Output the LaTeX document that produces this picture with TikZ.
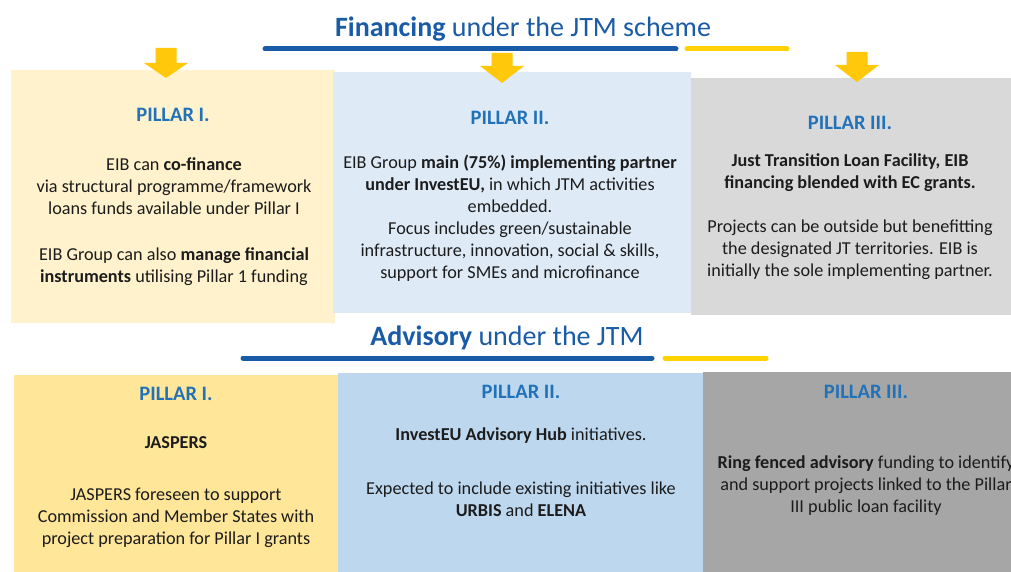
\documentclass[tikz,border=0pt]{standalone}
\usepackage{fontspec}
\setmainfont{Carlito}
\usepackage{tikz}

\definecolor{eibblue}{HTML}{1A5BA8}
\definecolor{pillarblue}{HTML}{2272B9}
\definecolor{eibyellow}{HTML}{FFD200}
\definecolor{arrowyellow}{HTML}{FFC80A}
\definecolor{finyellow}{HTML}{FFF2CC}
\definecolor{finblue}{HTML}{DEEBF7}
\definecolor{fingray}{HTML}{D9D9D9}
\definecolor{advyellow}{HTML}{FFE699}
\definecolor{advblue}{HTML}{BDD7EE}
\definecolor{advgray}{HTML}{A6A6A6}
\definecolor{bodyink}{HTML}{1C1C1C}

% yellow block arrow: centre x, top, start of head, tip
\newcommand{\pillararrow}[4]{%
  \fill[arrowyellow] (#1-10.5,#2) -- (#1+10.5,#2) -- (#1+10.5,#3) -- (#1+22,#3)
    -- (#1,#4) -- (#1-22,#3) -- (#1-10.5,#3) -- cycle;}

\tikzset{
  heading/.style={text=eibblue, font=\fontsize{28}{32}\selectfont},
  pillarhead/.style={text=pillarblue, font=\fontsize{20.5}{24}\selectfont\bfseries},
  bodytext/.style={text=bodyink, align=center, inner sep=0pt, font=\fontsize{18.2}{22}\selectfont},
  bar/.style={line width=5pt, line cap=round},
}

\begin{document}
\begin{tikzpicture}[x=1pt, y=-1pt]
    \clip (0,0) rectangle (1011,572);
    \fill[white] (0,0) rectangle (1011,572);

    % financing
    \node[heading] (fintitle) at (523,29) {\textbf{Financing} under the JTM scheme};
    \draw[bar, eibblue] (265,49) -- (676,49);
    \draw[bar, eibyellow] (687,49) -- (787,49);

    \fill[finyellow] (11,70) rectangle (335,323);
    \fill[finblue] (333,72) rectangle (691,313);
    \fill[fingray] (691,78) rectangle (1011,315);

    \pillararrow{166}{48}{63}{78}
    \pillararrow{502}{53}{66}{83}
    \pillararrow{857}{52}{65}{82}

    \node[pillarhead] (fin1) at (173,115) {PILLAR I.};
    \node[bodytext] (fin1a) at (174,186) {EIB can \textbf{co-finance}\\via structural programme/framework\\loans funds available under Pillar I};
    \node[bodytext] (fin1b) at (174,267) {EIB Group can also \textbf{manage financial}\\\textbf{instruments} utilising Pillar 1 funding};

    \node[pillarhead] (fin2) at (510,118) {PILLAR II.};
    \node[bodytext] (fin2a) at (510,218) {EIB Group \textbf{main (75\%) implementing partner}\\\textbf{under InvestEU,} in which JTM activities\\embedded.\\Focus includes green/sustainable\\infrastructure, innovation, social \& skills,\\support for SMEs and microfinance};

    \node[pillarhead] (fin3) at (850,123) {PILLAR III.};
    \node[bodytext] (fin3a) at (850,173) {\textbf{Just Transition Loan Facility, EIB}\\\textbf{financing blended with EC grants.}};
    \node[bodytext] (fin3b) at (850,250) {Projects can be outside but benefitting\\the designated JT territories. EIB is\\initially the sole implementing partner.};

    % advisory
    \node[heading] (advtitle) at (507,338) {\textbf{Advisory} under the JTM};
    \draw[bar, eibblue] (243,358) -- (652,358);
    \draw[bar, eibyellow] (665,358) -- (766,358);

    \fill[advyellow] (14,375) rectangle (338,572);
    \fill[advblue] (338,373) rectangle (703,572);
    \fill[advgray] (703,372) rectangle (1011,572);

    \node[pillarhead] (adv1) at (176,394) {PILLAR I.};
    \node[bodytext] (adv1a) at (176,443) {\textbf{JASPERS}};
    \node[bodytext] (adv1b) at (176,518) {JASPERS foreseen to support\\Commission and Member States with\\project preparation for Pillar I grants};

    \node[pillarhead] (adv2) at (521,392) {PILLAR II.};
    \node[bodytext] (adv2a) at (521,436) {\textbf{InvestEU Advisory Hub} initiatives.};
    \node[bodytext] (adv2b) at (521,499) {Expected to include existing initiatives like\\\textbf{URBIS} and \textbf{ELENA}};

    \node[pillarhead] (adv3) at (866,392) {PILLAR III.};
    \node[bodytext] (adv3a) at (866,486) {\textbf{Ring fenced advisory} funding to identify\\and support projects linked to the Pillar\\III public loan facility};
\end{tikzpicture}
\end{document}
